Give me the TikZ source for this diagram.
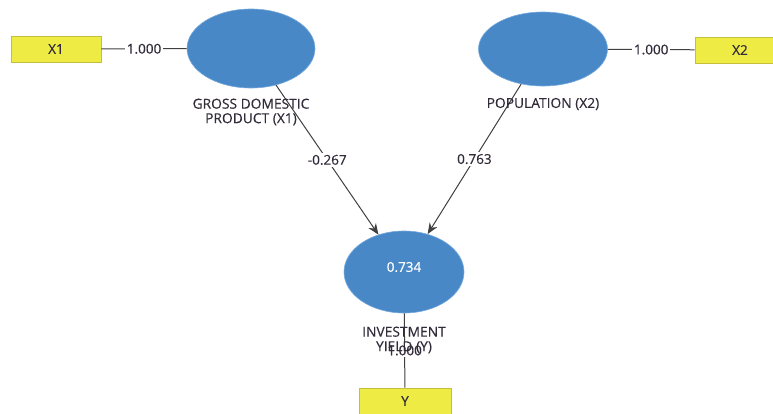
\documentclass[tikz,border=0pt]{standalone}
\usepackage{fontspec}
\setmainfont{Open Sans}[FakeBold=0.4]
\usetikzlibrary{arrows.meta,shapes.geometric}
\definecolor{lvblue}{RGB}{72,136,199}
\definecolor{lvedge}{RGB}{120,170,220}
\definecolor{mvyellow}{RGB}{238,235,68}
\definecolor{mvedge}{RGB}{196,192,60}
\definecolor{txt}{RGB}{50,44,58}
\definecolor{ln}{RGB}{64,64,64}
\tikzset{
  latent/.style={ellipse, fill=lvblue, draw=lvedge, line width=0.6pt, inner sep=0pt},
  manifest/.style={rectangle, fill=mvyellow, draw=mvedge, line width=0.8pt, minimum width=90pt, minimum height=26pt, inner sep=0pt, text=txt},
  loading/.style={draw=ln, line width=1pt},
  path/.style={draw=ln, line width=1pt, -{Stealth[length=11pt,width=9pt]}},
  coef/.style={fill=white, text=txt, inner sep=2pt},
  lvlabel/.style={text=txt, align=center, font=\fontsize{13.8}{14.5}\selectfont}
}
\begin{document}
\begin{tikzpicture}[x=1pt,y=-1pt,font=\fontsize{13.5}{15}\selectfont]
\useasboundingbox (0,0) rectangle (773,413);
% latent variables
\node[latent, minimum width=128pt, minimum height=79pt] (gdp) at (251,48.5) {};
\node[latent, minimum width=129pt, minimum height=74pt] (pop) at (543,49) {};
\node[latent, minimum width=120pt, minimum height=82pt] (inv) at (404,272) {};
% indicators
\node[manifest] (x1) at (56,49) {X1};
\node[manifest] (x2) at (740,50) {X2};
\node[manifest, minimum width=92pt] (yb) at (405,401) {Y};
% loadings
\draw[loading] (x1) -- node[coef] {1.000} (gdp);
\draw[loading] (pop) -- node[coef] {1.000} (x2);
\draw[loading] (inv) -- node[coef] {1.000} (yb);
% paths
\draw[path] (gdp) -- node[coef] {-0.267} (inv);
\draw[path] (pop) -- node[coef] {0.763} (inv);
% R2
\node[text=white] (r2) at (404,267) {0.734};
% labels
\node[lvlabel] (gdplab) at (251,112) {GROSS DOMESTIC\\PRODUCT (X1)};
\node[lvlabel] (poplab) at (543,104) {POPULATION (X2)};
\node[lvlabel] (invlab) at (404,340) {INVESTMENT\\YIELD (Y)};
\end{tikzpicture}
\end{document}
